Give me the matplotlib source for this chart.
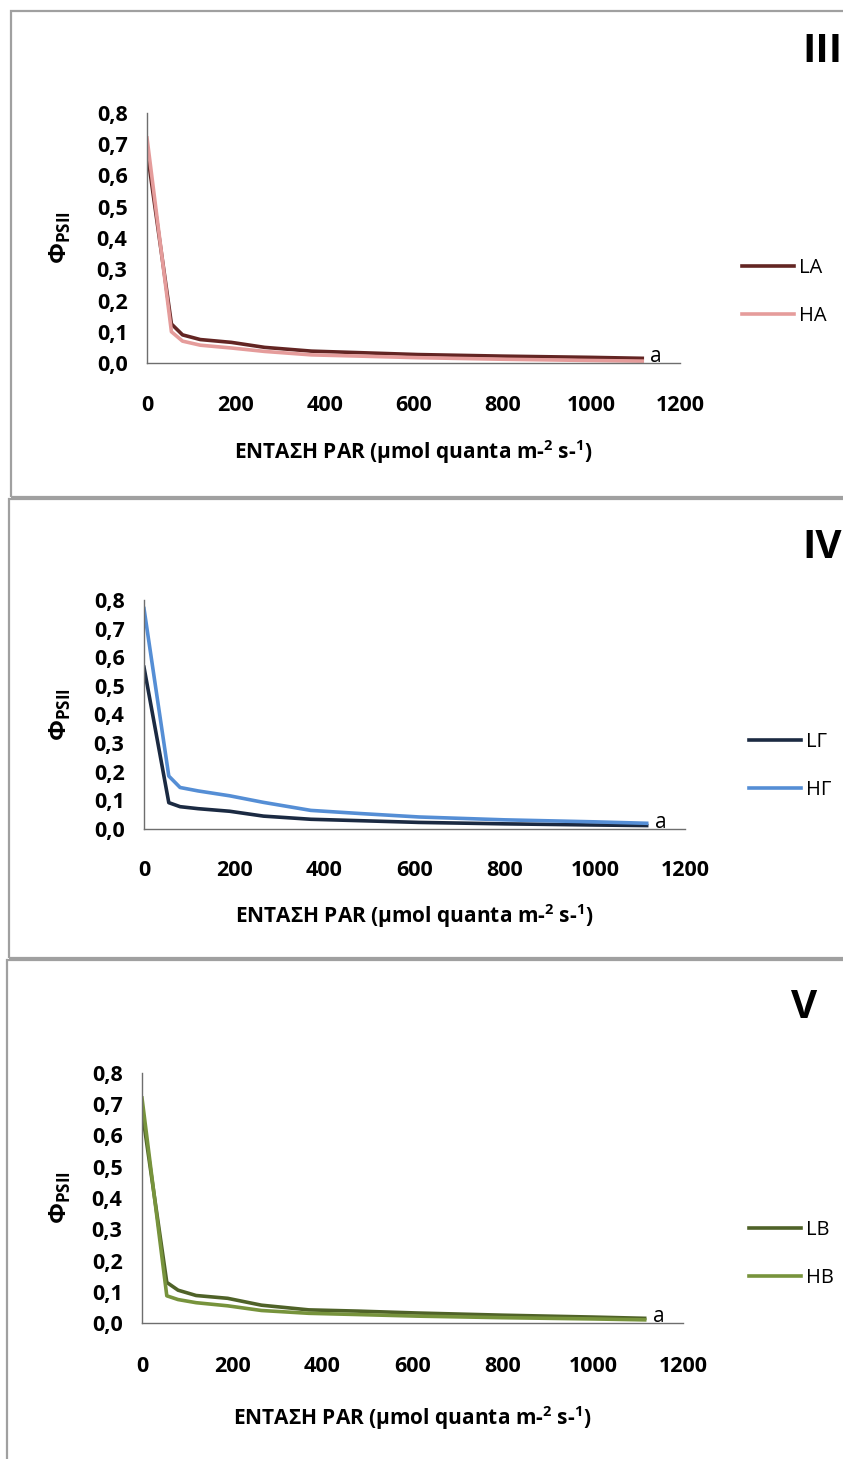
import matplotlib
matplotlib.use("Agg")
import matplotlib.pyplot as plt
from matplotlib.patches import Rectangle
from matplotlib.ticker import FuncFormatter

plt.rcParams['font.family'] = ['Open Sans', 'DejaVu Sans']
plt.rcParams['mathtext.fontset'] = 'custom'
plt.rcParams['mathtext.rm'] = 'Open Sans'
plt.rcParams['mathtext.bf'] = 'Open Sans:bold'

# Light intensity steps (PAR, umol quanta m-2 s-1)
par = [0, 55, 80, 120, 190, 265, 370, 480, 610, 800, 1000, 1115]

# Effective quantum yield of PSII per treatment
la = [0.68, 0.125, 0.090, 0.075, 0.066, 0.050, 0.038, 0.033, 0.027, 0.022, 0.018, 0.015]
ha = [0.72, 0.100, 0.070, 0.057, 0.048, 0.037, 0.026, 0.022, 0.017, 0.012, 0.008, 0.006]

lg = [0.565, 0.092, 0.078, 0.071, 0.062, 0.045, 0.034, 0.029, 0.023, 0.018, 0.014, 0.012]
hg = [0.77, 0.185, 0.145, 0.133, 0.116, 0.093, 0.065, 0.054, 0.042, 0.032, 0.025, 0.020]

lb = [0.68, 0.130, 0.105, 0.088, 0.079, 0.057, 0.042, 0.038, 0.032, 0.025, 0.019, 0.015]
hb = [0.72, 0.087, 0.075, 0.065, 0.055, 0.040, 0.031, 0.027, 0.022, 0.017, 0.013, 0.010]

x_ticks = [0, 200, 400, 600, 800, 1000, 1200]
y_ticks = [0.0, 0.1, 0.2, 0.3, 0.4, 0.5, 0.6, 0.7, 0.8]

panels = [
    dict(tag="III", names=("LΑ", "HΑ"), series=(la, ha), colors=("#632523", "#E59C9B")),
    dict(tag="IV", names=("LΓ", "HΓ"), series=(lg, hg), colors=("#1B2A42", "#558ED5")),
    dict(tag="V", names=("LΒ", "HΒ"), series=(lb, hb), colors=("#4F6228", "#77933C")),
]

W, H = 843, 1459
fig = plt.figure(figsize=(W / 100, H / 100), dpi=100)


def fx(px):
    return px / W


def fy(py):
    return 1 - py / H


# layout in pixels: axes box (left, top, right, bottom), frame box, tag, legend
layout = [
    dict(ax=(147, 113, 680, 363), frame=(11, 11, 860, 497), tag=(842, 52, "right"),
         leg=(732, 292), xlab=452, tick_pad=23),
    dict(ax=(144, 600, 685, 829), frame=(9, 499, 860, 958), tag=(842, 547, "right"),
         leg=(739, 766), xlab=916, tick_pad=22),
    dict(ax=(142, 1073, 683, 1323), frame=(7, 960, 860, 1480), tag=(791, 1008, "left"),
         leg=(739, 1254), xlab=1418, tick_pad=24),
]

comma = FuncFormatter(lambda v, pos: f"{v:.1f}".replace(".", ","))

for p, L in zip(panels, layout):
    fl, ft, fr, fb = L["frame"]
    fig.add_artist(Rectangle((fx(fl), fy(fb)), fx(fr - fl), fy(ft) - fy(fb),
                             transform=fig.transFigure, fill=False,
                             edgecolor="#A0A0A0", linewidth=1.6, clip_on=False))

    l, t, r, b = L["ax"]
    ax = fig.add_axes([fx(l), fy(b), fx(r - l), fy(t) - fy(b)])
    for s, c, name in zip(p["series"], p["colors"], p["names"]):
        ax.plot(par, s, color=c, linewidth=2.6, label=name, solid_joinstyle="round")

    ax.set_xlim(0, 1200)
    ax.set_ylim(0, 0.8)
    ax.set_xticks(x_ticks)
    ax.set_yticks(y_ticks)
    ax.yaxis.set_major_formatter(comma)
    for side in ("top", "right"):
        ax.spines[side].set_visible(False)
    for side in ("left", "bottom"):
        ax.spines[side].set_color("#6E6E6E")
        ax.spines[side].set_linewidth(1.0)
    ax.tick_params(axis="x", length=0, pad=L["tick_pad"], labelsize=15.5)
    ax.tick_params(axis="y", length=0, pad=14, labelsize=15.5)
    for lab in ax.get_xticklabels() + ax.get_yticklabels():
        lab.set_fontweight("bold")

    ax.set_xlabel("ΕΝΤΑΣΗ PAR (μmol quanta m-$^{\\mathbf{2}}$ s-$^{\\mathbf{1}}$)",
                  fontsize=15, fontweight="bold", va="center")
    ax.xaxis.set_label_coords(0.5, (b - L["xlab"]) / (b - t))
    ax.set_ylabel("Φ$_{\\mathbf{PSII}}$", fontsize=17.5, fontweight="bold", va="center")
    ax.yaxis.set_label_coords((60 - l) / (r - l), 0.5)

    ax.text(1133, 0.004, "a", fontsize=15, va="baseline", ha="left")

    lx, ly = L["leg"]
    ax.legend(loc="center left", bbox_to_anchor=(fx(lx), fy(ly)),
              bbox_transform=fig.transFigure, frameon=False, fontsize=14.5,
              handlelength=2.6, handletextpad=0.25, labelspacing=1.35, borderpad=0)

    tx, ty, tha = L["tag"]
    fig.text(fx(tx), fy(ty), p["tag"], fontsize=29, fontweight="bold",
             ha=tha, va="center")

fig.savefig("out.png", dpi=100)
